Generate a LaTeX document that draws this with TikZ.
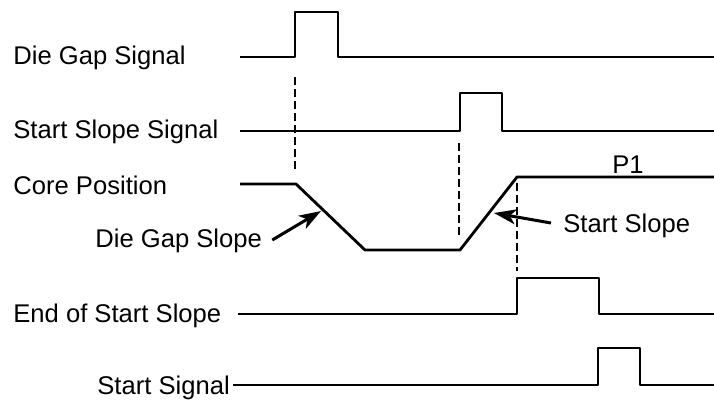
\documentclass[tikz,border=0pt]{standalone}
\usepackage{fontspec}
\setmainfont{Liberation Sans}
\usetikzlibrary{arrows.meta}

\begin{document}
\begin{tikzpicture}[
    x=0.5pt, y=-0.5pt,
    >={Stealth[length=11pt, width=7.5pt, inset=3pt]},
    sig/.style={line width=1.4pt, line join=round},
    guide/.style={line width=1.3pt, dash pattern=on 4pt off 2pt},
    lbl/.style={anchor=base west, inner sep=0pt, font=\fontsize{12.8}{15}\selectfont},
    pointer/.style={->, line width=1.5pt}
]
\useasboundingbox (0,0) rectangle (714,403);

% Signal names
\node[lbl] (dgs) at (13,64) {Die Gap Signal};
\node[lbl] (sss) at (13,138) {Start Slope Signal};
\node[lbl] (cp)  at (13,194) {Core Position};
\node[lbl] (ess) at (13,322) {End of Start Slope};
\node[lbl] (st)  at (97,394) {Start Signal};

% Traces
\draw[sig] (240,57) -- (295,57) -- (295,12) -- (338,12) -- (338,57) -- (714,57);
\draw[sig] (240,131) -- (460,131) -- (460,93) -- (502,93) -- (502,131) -- (714,131);
\draw[sig] (240,184) -- (296,184) -- (365,250) -- (460,250) -- (517,177) -- (714,177);
\draw[sig] (238,314) -- (517,314) -- (517,278) -- (599,278) -- (599,314) -- (714,314);
\draw[sig] (233,385) -- (598,385) -- (598,348) -- (640,348) -- (640,385) -- (714,385);

% Timing guides
\draw[guide] (295,77) -- (295,170);
\draw[guide] (459,143) -- (459,237);
\draw[guide] (517,183) -- (517,271);

% Slope callouts
\node[lbl] (p1)  at (612,173) {P1};
\node[lbl] (dgl) at (95,247) {Die Gap Slope};
\node[lbl] (ssl) at (563,232) {Start Slope};
\coordinate (dgtip) at (321,211);
\coordinate (sstip) at (494,213);
\draw[pointer] ([xshift=5pt,yshift=3.5pt]dgl.base east) -- (dgtip);
\draw[pointer] ([xshift=-6pt,yshift=4.5pt]ssl.base west) -- (sstip);

\end{tikzpicture}
\end{document}
